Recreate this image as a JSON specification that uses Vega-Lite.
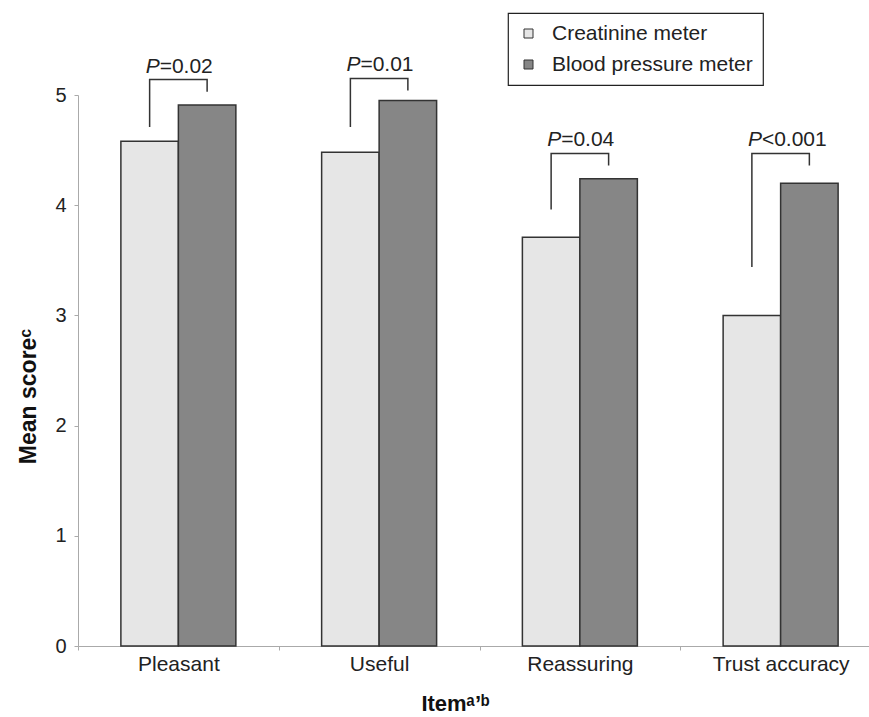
{
  "$schema": "https://vega.github.io/schema/vega-lite/v6.json",
  "autosize": {"type": "none"},
  "padding": {"left": 78, "top": 95, "right": 0, "bottom": 71},
  "width": 791,
  "height": 551,
  "background": "white",
  "config": {
    "view": {"stroke": null},
    "font": "Liberation Sans",
    "axis": {"grid": false, "labelColor": "#222", "titleColor": "#111", "domainColor": "#aaa", "tickColor": "#aaa"},
    "legend": {
      "orient": "none",
      "legendX": 430,
      "legendY": -82,
      "title": null,
      "padding": 10,
      "strokeColor": "#222",
      "strokeWidth": 1.2,
      "fillColor": "white",
      "labelFontSize": 21,
      "labelLimit": 400,
      "labelColor": "#222",
      "labelOffset": 13,
      "rowPadding": 9,
      "symbolType": "square",
      "symbolSize": 81,
      "symbolStrokeColor": "#333",
      "symbolStrokeWidth": 1
    }
  },
  "datasets": {
    "scores": [
      {"item": "Pleasant", "meter": "Creatinine meter", "score": 4.58},
      {"item": "Pleasant", "meter": "Blood pressure meter", "score": 4.91},
      {"item": "Useful", "meter": "Creatinine meter", "score": 4.48},
      {"item": "Useful", "meter": "Blood pressure meter", "score": 4.95},
      {"item": "Reassuring", "meter": "Creatinine meter", "score": 3.71},
      {"item": "Reassuring", "meter": "Blood pressure meter", "score": 4.24},
      {"item": "Trust accuracy", "meter": "Creatinine meter", "score": 3.0},
      {"item": "Trust accuracy", "meter": "Blood pressure meter", "score": 4.2}
    ],
    "brackets": [
      {"item": "Pleasant", "meter": "Creatinine meter", "y": 4.71, "ord": 1},
      {"item": "Pleasant", "meter": "Creatinine meter", "y": 5.14, "ord": 2},
      {"item": "Pleasant", "meter": "Blood pressure meter", "y": 5.14, "ord": 3},
      {"item": "Pleasant", "meter": "Blood pressure meter", "y": 5.03, "ord": 4},
      {"item": "Useful", "meter": "Creatinine meter", "y": 4.71, "ord": 1},
      {"item": "Useful", "meter": "Creatinine meter", "y": 5.15, "ord": 2},
      {"item": "Useful", "meter": "Blood pressure meter", "y": 5.15, "ord": 3},
      {"item": "Useful", "meter": "Blood pressure meter", "y": 5.04, "ord": 4},
      {"item": "Reassuring", "meter": "Creatinine meter", "y": 3.96, "ord": 1},
      {"item": "Reassuring", "meter": "Creatinine meter", "y": 4.47, "ord": 2},
      {"item": "Reassuring", "meter": "Blood pressure meter", "y": 4.47, "ord": 3},
      {"item": "Reassuring", "meter": "Blood pressure meter", "y": 4.36, "ord": 4},
      {"item": "Trust accuracy", "meter": "Creatinine meter", "y": 3.44, "ord": 1},
      {"item": "Trust accuracy", "meter": "Creatinine meter", "y": 4.47, "ord": 2},
      {"item": "Trust accuracy", "meter": "Blood pressure meter", "y": 4.47, "ord": 3},
      {"item": "Trust accuracy", "meter": "Blood pressure meter", "y": 4.36, "ord": 4}
    ],
    "pvals": [
      {"item": "Pleasant", "meter": "Creatinine meter", "top": 5.14, "p": "P", "rest": "=0.02"},
      {"item": "Useful", "meter": "Creatinine meter", "top": 5.15, "p": "P", "rest": "=0.01"},
      {"item": "Reassuring", "meter": "Creatinine meter", "top": 4.47, "p": "P", "rest": "=0.04"},
      {"item": "Trust accuracy", "meter": "Creatinine meter", "top": 4.47, "p": "P", "rest": "<0.001"}
    ]
  },
  "encoding": {
    "x": {
      "field": "item",
      "type": "nominal",
      "sort": ["Pleasant", "Useful", "Reassuring", "Trust accuracy"],
      "scale": {"range": [0, 803], "paddingInner": 0, "paddingOuter": 0},
      "axis": {
        "title": "Itemᵃ’ᵇ",
        "tickBand": "extent",
        "labelAngle": 0,
        "labelFontSize": 21,
        "tickSize": 4,
        "labelPadding": 3,
        "titleFontSize": 22,
        "titleFontWeight": "bold",
        "titlePadding": 19,
        "titleX": 377
      }
    },
    "xOffset": {
      "field": "meter",
      "type": "nominal",
      "sort": ["Creatinine meter", "Blood pressure meter"],
      "scale": {"paddingInner": 0, "paddingOuter": 0.746}
    }
  },
  "layer": [
    {
      "data": {"name": "scores"},
      "mark": {"type": "bar", "stroke": "#333", "strokeWidth": 1.5},
      "encoding": {
        "y": {
          "field": "score",
          "type": "quantitative",
          "title": "Mean scoreᶜ",
          "scale": {"domain": [0, 5], "nice": false},
          "axis": {
            "values": [0, 1, 2, 3, 4, 5],
            "format": "d",
            "tickSize": 4,
            "labelFontSize": 20,
            "labelPadding": 8,
            "titleFontSize": 23,
            "titleFontWeight": "bold",
            "titlePadding": 14,
            "titleY": 301
          }
        },
        "color": {
          "field": "meter",
          "type": "nominal",
          "sort": ["Creatinine meter", "Blood pressure meter"],
          "scale": {"domain": ["Creatinine meter", "Blood pressure meter"], "range": ["#e6e6e6", "#868686"]}
        }
      }
    },
    {
      "data": {"name": "brackets"},
      "mark": {"type": "line", "stroke": "#333", "strokeWidth": 1.5},
      "encoding": {
        "y": {"field": "y", "type": "quantitative", "title": "Mean scoreᶜ", "scale": {"domain": [0, 5], "nice": false}},
        "detail": {"field": "item"},
        "order": {"field": "ord", "type": "quantitative"}
      }
    },
    {
      "data": {"name": "pvals"},
      "mark": {"type": "text", "align": "left", "baseline": "alphabetic", "dx": -4, "dy": -7, "fontSize": 21, "fontStyle": "italic", "color": "#222"},
      "encoding": {
        "y": {"field": "top", "type": "quantitative", "title": "Mean scoreᶜ", "scale": {"domain": [0, 5], "nice": false}},
        "text": {"field": "p"}
      }
    },
    {
      "data": {"name": "pvals"},
      "mark": {"type": "text", "align": "left", "baseline": "alphabetic", "dx": 10, "dy": -7, "fontSize": 21, "color": "#222"},
      "encoding": {
        "y": {"field": "top", "type": "quantitative", "title": "Mean scoreᶜ", "scale": {"domain": [0, 5], "nice": false}},
        "text": {"field": "rest"}
      }
    }
  ]
}
